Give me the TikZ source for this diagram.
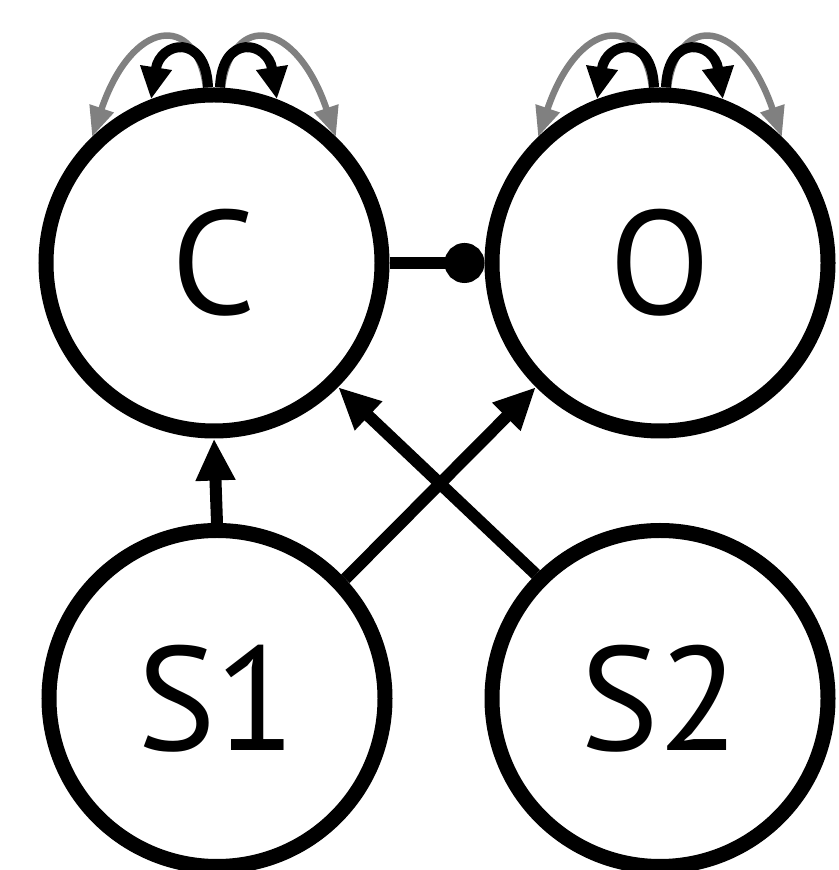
\documentclass[tikz,border=0pt]{standalone}
\usepackage{fontspec}
\setmainfont{PT Sans}
\usetikzlibrary{arrows.meta}
\begin{document}
\begin{tikzpicture}[x=1pt,y=1pt,
  var/.style={circle,draw,line width=15pt,minimum size=336pt,inner sep=0pt,font=\fontsize{148}{148}\selectfont},
  main/.style={line width=12pt,-{Triangle[length=42pt,width=37pt]}},
  bloop/.style={line width=10pt,-{Triangle[length=32pt,width=30pt]}},
  gloop/.style={line width=6.5pt,draw=gray,-{Triangle[length=30pt,width=24pt]}}]
\useasboundingbox (0,0) rectangle (838,870);
\node[var] (C) at (214,607) {C};
\node[var] (O) at (660,607) {O};
\node[var] (S1) at (217,171.5) {S1};
\node[var] (S2) at (660,171.5) {S2};
\draw[main] (S1.north) -- (C.south);
\draw[main] (S1.43) -- (O.225);
\draw[main] (S2.135) -- (C.-45);
\draw[line width=12pt,-{Circle[length=40pt]}] (C.east) -- (O.west);
\foreach \n in {C,O}{
  \draw[gloop] ([xshift=-8pt]\n.north) .. controls +(-10,76) and +(40,118) .. (\n.134);
  \draw[gloop] ([xshift=8pt]\n.north) .. controls +(10,76) and +(-40,118) .. (\n.46);
  \draw[bloop] ([xshift=-6pt]\n.north) .. controls +(-2,55) and +(9,58) .. (\n.111);
  \draw[bloop] ([xshift=6pt]\n.north) .. controls +(2,55) and +(-9,58) .. (\n.69);
}
\end{tikzpicture}
\end{document}
